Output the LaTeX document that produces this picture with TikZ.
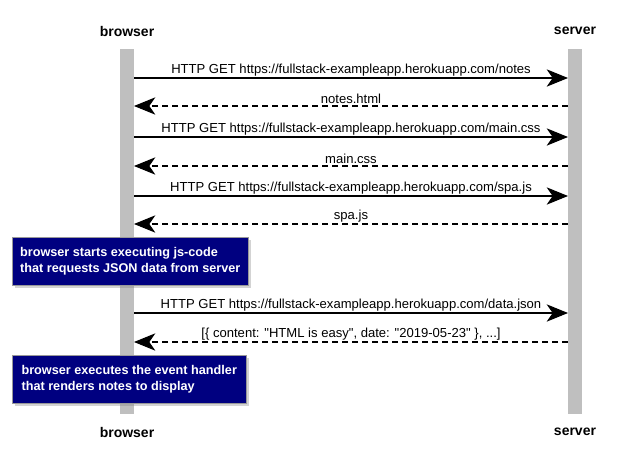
\documentclass[tikz,border=0pt]{standalone}
\usepackage{fontspec}
\setmainfont{Liberation Sans}
\usetikzlibrary{arrows.meta,shadows}
\definecolor{notenavy}{RGB}{0,0,128}
\tikzset{
	lifeline/.style = {fill = black!25, draw = none},
	actor/.style = {font = \fontsize{10.5}{12}\selectfont\bfseries},
	msg/.style = {thick, -{Stealth[length=16pt, width=13pt, inset=4.5pt]}},
	reply/.style = {msg, dash pattern = on 4.5pt off 3pt},
	msglabel/.style = {above, font = \fontsize{9.8}{11}\selectfont, inner sep = 1.2pt},
	notebox/.style = {fill = notenavy, draw = black!40, text = white, align = left,
		font = \fontsize{9.5}{12.5}\selectfont\bfseries, anchor = north west,
		inner xsep = 3pt, drop shadow = {opacity = 0.35, shadow xshift = 2pt, shadow yshift = -2pt}}
}
\begin{document}
\begin{tikzpicture}[x=0.75pt, y=-0.75pt]
	\useasboundingbox (0,0) rectangle (622,472);
	% lifelines
	\fill[lifeline] (120, 49) rectangle (134, 414);
	\fill[lifeline] (568, 49) rectangle (582, 414);
	\node (B0) at (127, 31)	[actor]	{browser};
	\node (S0) at (575, 31)	[actor]	{server};
	\node (B9) at (127, 432)	[actor]	{browser};
	\node (S9) at (575, 432)	[actor]	{server};
	% message ends
	\foreach \i/\y in {1/78, 2/106, 3/137, 4/166, 5/196, 6/224, 7/313, 8/342} {
		\coordinate (b\i) at (134, \y);
		\coordinate (s\i) at (568, \y);
	}
	\draw[msg]   (b1) -- node[msglabel] {HTTP GET https://fullstack-exampleapp.herokuapp.com/notes} (s1);
	\draw[reply] (s2) -- node[msglabel] {notes.html} (b2);
	\draw[msg]   (b3) -- node[msglabel] {HTTP GET https://fullstack-exampleapp.herokuapp.com/main.css} (s3);
	\draw[reply] (s4) -- node[msglabel] {main.css} (b4);
	\draw[msg]   (b5) -- node[msglabel] {HTTP GET https://fullstack-exampleapp.herokuapp.com/spa.js} (s5);
	\draw[reply] (s6) -- node[msglabel] {spa.js} (b6);
	\node (N1) at (12, 237)	[notebox, minimum width = 236*0.75pt, minimum height = 48*0.75pt]
		{browser starts executing js-code\\that requests JSON data from server};
	\draw[msg]   (b7) -- node[msglabel] {HTTP GET https://fullstack-exampleapp.herokuapp.com/data.json} (s7);
	\draw[reply] (s8) -- node[msglabel] {[\{ content: \textquotedbl HTML is easy\textquotedbl, date: \textquotedbl 2019-05-23\textquotedbl\ \}, ...]} (b8);
	\node (N2) at (12, 355)	[notebox, minimum width = 234*0.75pt, minimum height = 48*0.75pt]
		{browser executes the event handler\\that renders notes to display};
\end{tikzpicture}
\end{document}
